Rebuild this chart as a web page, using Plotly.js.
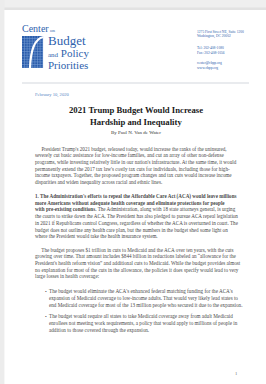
<!DOCTYPE html>
<html><head><meta charset="utf-8">
<script src="https://cdn.plot.ly/plotly-3.0.1.min.js"></script>
<style>html,body{margin:0;padding:0;background:#f1f1f1;}#c{width:266px;height:384px;}</style>
</head><body><div id="c"></div>
<script>
// ---- content (text lines) ----
const logoWords = ["Budget", "and Policy", "Priorities"];
const addressLines = ["1275 First Street NE, Suite 1200", "Washington, DC 20002", "Tel: 202-408-1080", "Fax: 202-408-1056", "center@cbpp.org", "www.cbpp.org"];
const dateText = "February 10, 2020";
const titleLines = ["2021 Trump Budget Would Increase", "Hardship and Inequality"];
const byline = "By Paul N. Van de Water";
const para1 = [
  "     President Trump's 2021 budget, released today, would increase the ranks of the uninsured,",
  "severely cut basic assistance for low-income families, and cut an array of other non-defense",
  "programs, while investing relatively little in our nation's infrastructure. At the same time, it would",
  "permanently extend the 2017 tax law's costly tax cuts for individuals, including those for high-",
  "income taxpayers. Together, the proposed program changes and tax cuts would increase income",
  "disparities and widen inequality across racial and ethnic lines."
];
const para2 = [
  "<b>1. The Administration's efforts to repeal the Affordable Care Act (ACA) would leave millions</b>",
  "<b>more Americans without adequate health coverage and eliminate protections for people</b>",
  "<b>with pre-existing conditions.</b> The Administration, along with 18 state attorneys general, is urging",
  "the courts to strike down the ACA. The President has also pledged to pursue ACA repeal legislation",
  "in 2021 if Republicans control Congress, regardless of whether the ACA is overturned in court. The",
  "budget does not outline any health care plan, but the numbers in the budget shed some light on",
  "where the President would take the health insurance system."
];
const para3 = [
  "     The budget proposes $1 trillion in cuts to Medicaid and the ACA over ten years, with the cuts",
  "growing over time. That amount includes $844 billion in reductions labeled an \u201callowance for the",
  "President's health reform vision\u201d and additional cuts to Medicaid. While the budget provides almost",
  "no explanation for most of the cuts in the allowance, the policies it does specify would lead to very",
  "large losses in health coverage:"
];
const bullet1 = [
  "The budget would eliminate the ACA's enhanced federal matching funding for the ACA's",
  "expansion of Medicaid coverage to low-income adults. That would very likely lead states to",
  "end Medicaid coverage for most of the 13 million people who secured it due to the expansion."
];
const bullet2 = [
  "The budget would require all states to take Medicaid coverage away from adult Medicaid",
  "enrollees not meeting work requirements, a policy that would apply to millions of people in",
  "addition to those covered through the expansion."
];
const pageNumber = "1";

// ---- drawing ----
const blue = "#2f62ad";
const bodyCol = "#4a4a4a";
const serif = "Liberation Serif, DejaVu Serif, serif";
const ann = [];
function txt(x, y, s, size, color, opts) {
  ann.push(Object.assign({x: x, y: y, xref: "x", yref: "y", text: s, showarrow: false,
    xanchor: "left", yanchor: "middle", borderpad: 0, font: {family: serif, size: size, color: color}}, opts || {}));
}
function block(lines, x0, y0, dy, size, color) {
  lines.forEach((l, i) => txt(x0, y0 + i * dy, l, size, color));
}

// logo
txt(21, 28, "Center<span style='font-size:5px'> on</span>", 10, blue);
txt(46.5, 40.5, logoWords[0], 13, blue);
txt(46.5, 53, "<span style='font-size:7px'>and</span> Policy", 11, blue);
txt(46.5, 64.5, logoWords[2], 11, blue);
// address
block(addressLines.slice(0, 2), 196, 32, 4.5, 3.6, blue);
block(addressLines.slice(2, 4), 196, 48, 4.5, 3.6, blue);
block(addressLines.slice(4, 6), 196, 63, 4.5, 3.6, blue);
// date, title, byline
txt(34, 95, dateText, 4.6, "#5a86c4");
titleLines.forEach((l, i) => txt(135.5, 110 + i * 12, "<b>" + l + "</b>", 8.7, "#1a1a1a", {xanchor: "center"}));
txt(135.5, 132.5, byline, 5, "#333", {xanchor: "center"});
// body
const dy = 6.7;
block(para1, 34, 148.5, dy, 5.15, bodyCol);
block(para2, 34, 196, dy, 5.1, bodyCol);
block(para3, 34, 249.5, dy, 5.15, bodyCol);
block(bullet1, 48, 291, dy * 1.05, 5.15, bodyCol);
block(bullet2, 48, 316, dy * 1.05, 5.15, bodyCol);
txt(45.5, 291, "\u2022", 5, bodyCol, {xanchor: "center"});
txt(45.5, 316, "\u2022", 5, bodyCol, {xanchor: "center"});
txt(236, 373, pageNumber, 4.5, "#666", {xanchor: "center"});

// shapes: page, rule, logo mark
const shapes = [
  {type: "rect", x0: 0, x1: 266, y0: 0, y1: 9, fillcolor: "#efefef", line: {width: 0}, layer: "below"},
  {type: "rect", x0: 0, x1: 266, y0: 7.5, y1: 10, fillcolor: "#e2e2e2", line: {width: 0}, layer: "below"},
  {type: "rect", x0: 0, x1: 4.5, y0: 0, y1: 384, fillcolor: "#ececec", line: {width: 0}, layer: "below"},
  {type: "rect", x0: 4.5, x1: 266, y0: 10, y1: 384, fillcolor: "#ffffff", line: {width: 0}, layer: "below"},
  {type: "line", x0: 22, x1: 249, y0: 83, y1: 83, line: {color: "#d4d8de", width: 1.2}},
  {type: "rect", x0: 22, x1: 43, y0: 36, y1: 68, fillcolor: "#2a5cab", line: {width: 0}}
];
// grid lines on logo mark
for (let gx = 24.5; gx < 43; gx += 2.6) shapes.push({type: "line", x0: gx, x1: gx, y0: 36, y1: 68, line: {color: "#7da2d6", width: 0.5}});
for (let gy = 38.5; gy < 68; gy += 2.6) shapes.push({type: "line", x0: 22, x1: 43, y0: gy, y1: gy, line: {color: "#7da2d6", width: 0.5}});
shapes.push({type: "path", path: "M 30 68 Q 31 40 43 37", line: {color: "#ffffff", width: 2.2}});

Plotly.newPlot("c", [], {
  width: 266, height: 384,
  margin: {l: 0, r: 0, t: 0, b: 0},
  paper_bgcolor: "#f1f1f1", plot_bgcolor: "#f1f1f1",
  xaxis: {range: [0, 266], visible: false, fixedrange: true},
  yaxis: {range: [384, 0], visible: false, fixedrange: true},
  shapes: shapes, annotations: ann, showlegend: false
}, {displayModeBar: false, staticPlot: true});
</script></body></html>
